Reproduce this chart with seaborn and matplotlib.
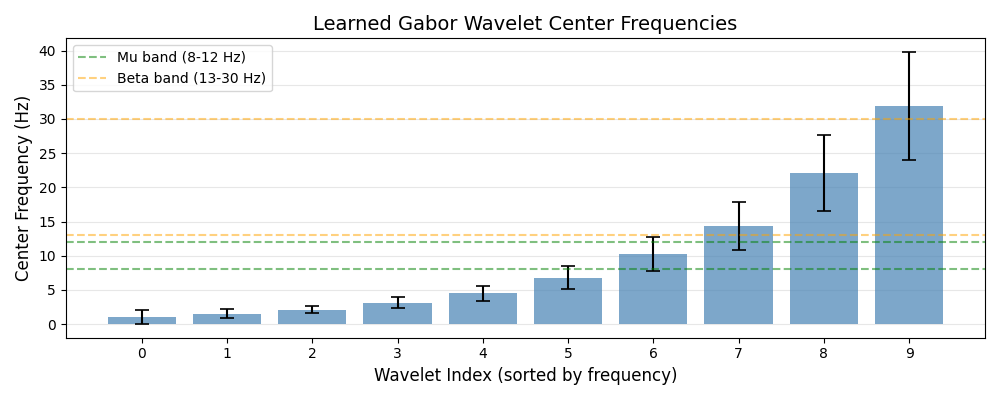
import numpy as np
import pandas as pd
import matplotlib
matplotlib.use("Agg")
import matplotlib.pyplot as plt
import seaborn as sns

# Datos
indices = list(range(10))
frecuencias = [1.0, 1.48, 2.08, 3.12, 4.47, 6.77, 10.3, 14.4, 22.07, 31.9]
desviaciones = [1.05, 0.66, 0.52, 0.83, 1.17, 1.7, 2.5, 3.5, 5.6, 7.9]
mu_band = [8, 12]
beta_band = [13, 30]

df = pd.DataFrame({"idx": indices, "freq": frecuencias, "std": desviaciones})

fig, ax = plt.subplots(figsize=(10, 4), dpi=100)
sns.barplot(data=df, x="idx", y="freq", color="steelblue", alpha=0.7,
            errorbar=None, width=0.8, saturation=1, ax=ax)
ax.errorbar(df["idx"], df["freq"], yerr=df["std"], fmt="none",
            ecolor="black", capsize=5, elinewidth=1.5, capthick=1.2)

for i, f in enumerate(mu_band):
    ax.axhline(f, color="green", linestyle="--", alpha=0.5,
               label="Mu band (8-12 Hz)" if i == 0 else None)
for i, f in enumerate(beta_band):
    ax.axhline(f, color="orange", linestyle="--", alpha=0.5,
               label="Beta band (13-30 Hz)" if i == 0 else None)

ax.set_xlim(-0.89, 9.89)
ax.set_ylim(-2.0, 41.8)
ax.set_xlabel("Wavelet Index (sorted by frequency)", fontsize=12)
ax.set_ylabel("Center Frequency (Hz)", fontsize=12)
ax.set_title("Learned Gabor Wavelet Center Frequencies", fontsize=14)
ax.yaxis.grid(True, alpha=0.3)
ax.xaxis.grid(False)
ax.set_axisbelow(True)
ax.legend(loc="upper left")
plt.tight_layout()
plt.savefig("out.png")
